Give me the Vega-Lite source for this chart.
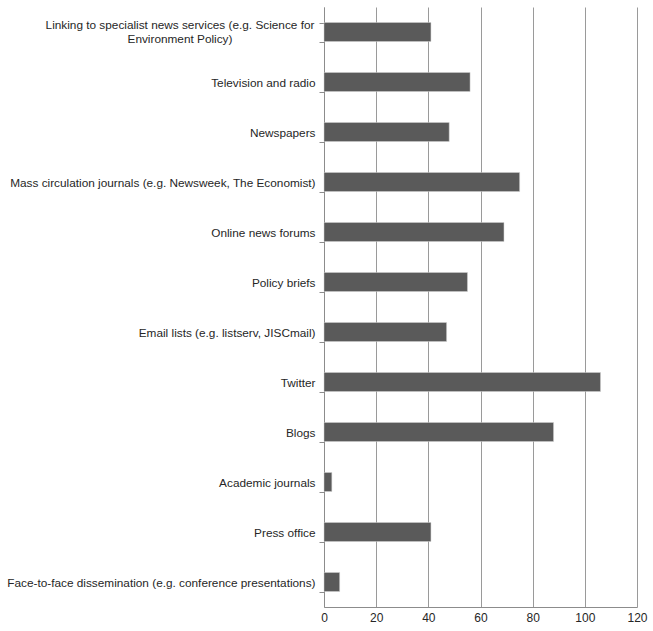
{
  "$schema": "https://vega.github.io/schema/vega-lite/v6.json",
  "autosize": {"type": "none"},
  "width": 313,
  "height": 600,
  "padding": {"left": 324, "top": 7, "right": 16, "bottom": 24},
  "background": "white",
  "data": {"values": [
    {"channel": "Linking to specialist news services (e.g. Science for Environment Policy)", "count": 41},
    {"channel": "Television and radio", "count": 56},
    {"channel": "Newspapers", "count": 48},
    {"channel": "Mass circulation journals (e.g. Newsweek, The Economist)", "count": 75},
    {"channel": "Online news forums", "count": 69},
    {"channel": "Policy briefs", "count": 55},
    {"channel": "Email lists (e.g. listserv, JISCmail)", "count": 47},
    {"channel": "Twitter", "count": 106},
    {"channel": "Blogs", "count": 88},
    {"channel": "Academic journals", "count": 3},
    {"channel": "Press office", "count": 41},
    {"channel": "Face-to-face dissemination (e.g. conference presentations)", "count": 6}
  ]},
  "config": {
    "view": {"stroke": null},
    "font": "Liberation Sans"
  },
  "encoding": {
    "y": {
      "field": "channel", "type": "nominal", "sort": null,
      "scale": {"paddingInner": 0.62, "paddingOuter": 0.31},
      "axis": {
        "title": null,
        "grid": false,
        "domainColor": "#8c8c8c",
        "tickColor": "#8c8c8c",
        "tickSize": 5,
        "tickBand": "extent",
        "labelFontSize": 11.8,
        "labelColor": "#262626",
        "labelPadding": 4,
        "labelLimit": 0,
        "labelExpr": "indexof(datum.label, 'Linking') === 0 ? '' : datum.label"
      }
    }
  },
  "layer": [
    {
      "mark": {"type": "bar", "color": "#5a5a5a", "stroke": "#d0d0d0", "strokeWidth": 0.5},
      "encoding": {
        "x": {
          "field": "count", "type": "quantitative",
          "scale": {"domain": [0, 120], "nice": false},
          "axis": {
            "title": null,
            "values": [0, 20, 40, 60, 80, 100, 120],
            "grid": true,
            "gridColor": "#9a9a9a",
            "gridWidth": 1,
            "domainColor": "#8c8c8c",
            "ticks": false,
            "labelFontSize": 12,
            "labelColor": "#262626",
            "labelPadding": 5,
            "labelFlush": false
          }
        }
      }
    },
    {
      "transform": [{"filter": "indexof(datum.channel, 'Linking') === 0"}],
      "mark": {"type": "text", "align": "center", "baseline": "middle", "dx": -144, "dy": -7, "fontSize": 11.8, "lineHeight": 14, "color": "#262626"},
      "encoding": {
        "x": {"datum": 0},
        "text": {"value": ["Linking to specialist news services (e.g. Science for", "Environment Policy)"]}
      }
    }
  ]
}
